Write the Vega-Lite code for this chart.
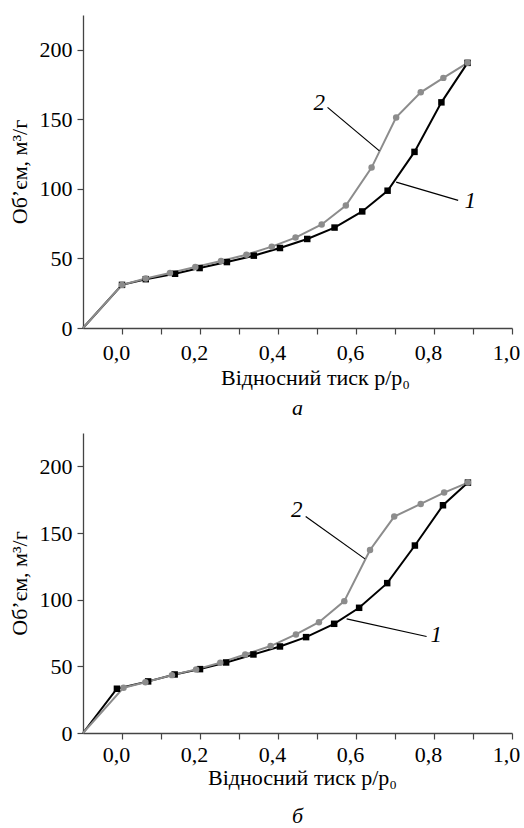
{
  "$schema": "https://vega.github.io/schema/vega-lite/v6.json",
  "padding": {"left": 8, "top": 15, "right": 0, "bottom": 0},
  "background": "white",
  "config": {
    "view": {"stroke": null},
    "font": "Liberation Serif",
    "axis": {
      "grid": false,
      "domainColor": "#444444",
      "domainWidth": 1.3,
      "tickColor": "#444444",
      "tickWidth": 1.2,
      "labelFont": "Liberation Serif",
      "labelFontSize": 22,
      "labelColor": "#000000",
      "titleFont": "Liberation Serif",
      "titleFontSize": 22,
      "titleFontWeight": "normal",
      "titleColor": "#000000"
    },
    "title": {"font": "Liberation Serif", "fontSize": 22, "fontStyle": "italic", "fontWeight": "normal", "color": "#000000"}
  },
  "datasets": {
    "a": [
      {"s": "1", "x": -0.1, "y": 0},
      {"s": "1", "x": 0.0, "y": 31.0},
      {"s": "1", "x": 0.061, "y": 35.1},
      {"s": "1", "x": 0.136, "y": 39.0},
      {"s": "1", "x": 0.199, "y": 43.1},
      {"s": "1", "x": 0.269, "y": 47.4},
      {"s": "1", "x": 0.338, "y": 52.0},
      {"s": "1", "x": 0.405, "y": 57.5},
      {"s": "1", "x": 0.475, "y": 64.0},
      {"s": "1", "x": 0.545, "y": 72.2},
      {"s": "1", "x": 0.616, "y": 83.8},
      {"s": "1", "x": 0.681, "y": 98.7},
      {"s": "1", "x": 0.750, "y": 126.6},
      {"s": "1", "x": 0.819, "y": 162.2},
      {"s": "1", "x": 0.886, "y": 190.6},
      {"s": "2", "x": -0.1, "y": 0},
      {"s": "2", "x": 0.0, "y": 31.0},
      {"s": "2", "x": 0.061, "y": 35.6},
      {"s": "2", "x": 0.123, "y": 39.5},
      {"s": "2", "x": 0.188, "y": 43.8},
      {"s": "2", "x": 0.254, "y": 48.1},
      {"s": "2", "x": 0.319, "y": 52.7},
      {"s": "2", "x": 0.384, "y": 58.5},
      {"s": "2", "x": 0.445, "y": 65.0},
      {"s": "2", "x": 0.512, "y": 74.4},
      {"s": "2", "x": 0.574, "y": 88.1},
      {"s": "2", "x": 0.640, "y": 115.3},
      {"s": "2", "x": 0.703, "y": 151.4},
      {"s": "2", "x": 0.766, "y": 169.4},
      {"s": "2", "x": 0.824, "y": 179.8},
      {"s": "2", "x": 0.886, "y": 190.6}
    ],
    "b": [
      {"s": "1", "x": -0.1, "y": 0},
      {"s": "1", "x": -0.013, "y": 33.2},
      {"s": "1", "x": 0.067, "y": 38.7},
      {"s": "1", "x": 0.135, "y": 43.9},
      {"s": "1", "x": 0.200, "y": 47.9},
      {"s": "1", "x": 0.267, "y": 52.9},
      {"s": "1", "x": 0.337, "y": 58.9},
      {"s": "1", "x": 0.405, "y": 64.9},
      {"s": "1", "x": 0.472, "y": 71.9},
      {"s": "1", "x": 0.544, "y": 81.9},
      {"s": "1", "x": 0.608, "y": 93.9},
      {"s": "1", "x": 0.680, "y": 112.4},
      {"s": "1", "x": 0.751, "y": 140.6},
      {"s": "1", "x": 0.823, "y": 170.8},
      {"s": "1", "x": 0.887, "y": 187.8},
      {"s": "2", "x": -0.1, "y": 0},
      {"s": "2", "x": 0.004, "y": 34.0},
      {"s": "2", "x": 0.060, "y": 38.0},
      {"s": "2", "x": 0.128, "y": 43.4},
      {"s": "2", "x": 0.190, "y": 47.7},
      {"s": "2", "x": 0.252, "y": 52.7},
      {"s": "2", "x": 0.316, "y": 58.9},
      {"s": "2", "x": 0.381, "y": 65.2},
      {"s": "2", "x": 0.446, "y": 73.9},
      {"s": "2", "x": 0.505, "y": 83.1},
      {"s": "2", "x": 0.570, "y": 98.9},
      {"s": "2", "x": 0.636, "y": 137.3},
      {"s": "2", "x": 0.698, "y": 162.3},
      {"s": "2", "x": 0.766, "y": 171.8},
      {"s": "2", "x": 0.826, "y": 180.3},
      {"s": "2", "x": 0.887, "y": 187.8}
    ],
    "a_lab": [
      {"lab": "2", "x": 0.506, "y": 162.0},
      {"lab": "1", "x": 0.893, "y": 91.2}
    ],
    "a_lead": [
      {"x": 0.527, "y": 158.6, "x2": 0.660, "y2": 127.3},
      {"x": 0.703, "y": 104.9, "x2": 0.862, "y2": 91.7}
    ],
    "b_lab": [
      {"lab": "2", "x": 0.448, "y": 167.5},
      {"lab": "1", "x": 0.806, "y": 73.2}
    ],
    "b_lead": [
      {"x": 0.471, "y": 162.3, "x2": 0.623, "y2": 130.6},
      {"x": 0.576, "y": 85.6, "x2": 0.781, "y2": 72.4}
    ]
  },
  "spacing": 14,
  "vconcat": [
    {
      "width": 429,
      "height": 313,
      "title": {"text": "а", "orient": "bottom", "offset": 10},
      "layer": [
        {
          "data": {"name": "a"},
          "mark": {"type": "line", "strokeWidth": 2},
          "encoding": {
            "x": {"field": "x", "type": "quantitative", "scale": {"domain": [-0.1, 1.0], "nice": false, "zero": false},
              "axis": {"title": "Відносний тиск p/p₀", "values": [0, 0.1, 0.2, 0.3, 0.4, 0.5, 0.6, 0.7, 0.8, 0.9, 1.0],
                "labelExpr": "round(datum.value*10)%2==0 ? replace(format(datum.value,'.1f'),'.',',') : ''",
                "tickSize": 6, "labelPadding": 8, "labelOffset": -6, "titlePadding": 4, "titleX": 232, "labelFlush": false, "labelOverlap": false}},
            "y": {"field": "y", "type": "quantitative", "scale": {"domain": [0, 225], "nice": false},
              "axis": {"title": "Об’єм, м³/г", "values": [0, 25, 50, 75, 100, 125, 150, 175, 200, 225],
                "labelExpr": "datum.value%50==0 ? datum.value : ''",
                "tickSize": {"condition": {"test": "datum.value%50==0", "value": 6}, "value": 3},
                "labelPadding": 5, "titlePadding": 8, "labelOverlap": false}},
            "color": {"field": "s", "type": "nominal", "scale": {"domain": ["1", "2"], "range": ["#000000", "#8c8c8c"]}, "legend": null}
          }
        },
        {
          "data": {"name": "a"},
          "transform": [{"filter": "datum.x > -0.05"}],
          "mark": {"type": "point", "filled": true, "opacity": 1, "size": 42},
          "encoding": {
            "x": {"field": "x", "type": "quantitative"},
            "y": {"field": "y", "type": "quantitative"},
            "color": {"field": "s", "type": "nominal", "legend": null},
            "shape": {"field": "s", "type": "nominal", "scale": {"domain": ["1", "2"], "range": ["square", "circle"]}, "legend": null}
          }
        },
        {
          "data": {"name": "a_lead"},
          "mark": {"type": "rule", "color": "#000000", "strokeWidth": 1.2},
          "encoding": {
            "x": {"field": "x", "type": "quantitative"},
            "y": {"field": "y", "type": "quantitative"},
            "x2": {"field": "x2"},
            "y2": {"field": "y2"}
          }
        },
        {
          "data": {"name": "a_lab"},
          "mark": {"type": "text", "font": "Liberation Serif", "fontSize": 23, "fontStyle": "italic", "align": "center", "baseline": "middle", "color": "#000000"},
          "encoding": {
            "x": {"field": "x", "type": "quantitative"},
            "y": {"field": "y", "type": "quantitative"},
            "text": {"field": "lab"}
          }
        }
      ]
    },
    {
      "width": 429,
      "height": 300,
      "title": {"text": "б", "orient": "bottom", "offset": 18},
      "layer": [
        {
          "data": {"name": "b"},
          "mark": {"type": "line", "strokeWidth": 2},
          "encoding": {
            "x": {"field": "x", "type": "quantitative", "scale": {"domain": [-0.1, 1.0], "nice": false, "zero": false},
              "axis": {"title": "Відносний тиск p/p₀", "values": [0, 0.1, 0.2, 0.3, 0.4, 0.5, 0.6, 0.7, 0.8, 0.9, 1.0],
                "labelExpr": "round(datum.value*10)%2==0 ? replace(format(datum.value,'.1f'),'.',',') : ''",
                "tickSize": 6, "labelPadding": 5, "labelOffset": -6, "titlePadding": 2, "titleX": 219, "labelFlush": false, "labelOverlap": false}},
            "y": {"field": "y", "type": "quantitative", "scale": {"domain": [0, 225], "nice": false},
              "axis": {"title": "Об’єм, м³/г", "values": [0, 25, 50, 75, 100, 125, 150, 175, 200, 225],
                "labelExpr": "datum.value%50==0 ? datum.value : ''",
                "tickSize": {"condition": {"test": "datum.value%50==0", "value": 6}, "value": 3},
                "labelPadding": 5, "titlePadding": 8, "labelOverlap": false}},
            "color": {"field": "s", "type": "nominal", "scale": {"domain": ["1", "2"], "range": ["#000000", "#8c8c8c"]}, "legend": null}
          }
        },
        {
          "data": {"name": "b"},
          "transform": [{"filter": "datum.x > -0.05"}],
          "mark": {"type": "point", "filled": true, "opacity": 1, "size": 42},
          "encoding": {
            "x": {"field": "x", "type": "quantitative"},
            "y": {"field": "y", "type": "quantitative"},
            "color": {"field": "s", "type": "nominal", "legend": null},
            "shape": {"field": "s", "type": "nominal", "scale": {"domain": ["1", "2"], "range": ["square", "circle"]}, "legend": null}
          }
        },
        {
          "data": {"name": "b_lead"},
          "mark": {"type": "rule", "color": "#000000", "strokeWidth": 1.2},
          "encoding": {
            "x": {"field": "x", "type": "quantitative"},
            "y": {"field": "y", "type": "quantitative"},
            "x2": {"field": "x2"},
            "y2": {"field": "y2"}
          }
        },
        {
          "data": {"name": "b_lab"},
          "mark": {"type": "text", "font": "Liberation Serif", "fontSize": 23, "fontStyle": "italic", "align": "center", "baseline": "middle", "color": "#000000"},
          "encoding": {
            "x": {"field": "x", "type": "quantitative"},
            "y": {"field": "y", "type": "quantitative"},
            "text": {"field": "lab"}
          }
        }
      ]
    }
  ]
}
